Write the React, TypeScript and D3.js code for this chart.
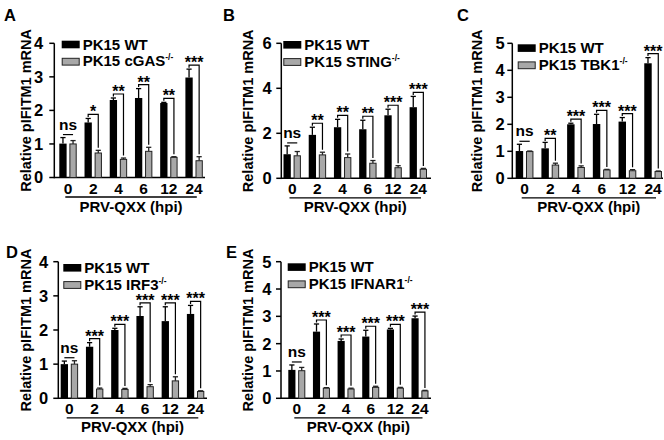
import React from "react";
import * as d3 from "d3";

const timepoints = ["0", "2", "4", "6", "12", "24"];
const panelLetters = ["A", "B", "C", "D", "E"];
const knockouts = ["cGAS", "STING", "TBK1", "IRF3", "IFNAR1"];
const yMaxes = [4, 6, 5, 4, 5];
const yTickSteps = [1, 2, 1, 1, 1];

const wtMeans = [
  [1.01, 1.64, 2.31, 2.37, 2.22, 2.98],
  [1.07, 1.93, 2.27, 2.18, 2.8, 3.16],
  [1.01, 1.11, 2.0, 2.01, 2.1, 4.26],
  [1.0, 1.51, 2.0, 2.41, 2.26, 2.47],
  [1.04, 2.44, 2.1, 2.26, 2.52, 2.93],
];
const wtErrs = [
  [0.18, 0.12, 0.06, 0.28, 0.02, 0.25],
  [0.37, 0.34, 0.35, 0.4, 0.27, 0.48],
  [0.25, 0.22, 0.04, 0.36, 0.15, 0.21],
  [0.09, 0.12, 0.05, 0.27, 0.42, 0.25],
  [0.18, 0.28, 0.07, 0.23, 0.04, 0.08],
];
const koMeans = [
  [1.0, 0.73, 0.54, 0.78, 0.6, 0.5],
  [1.0, 1.04, 0.92, 0.67, 0.47, 0.4],
  [0.99, 0.49, 0.4, 0.31, 0.28, 0.25],
  [1.0, 0.27, 0.26, 0.34, 0.51, 0.2],
  [1.01, 0.37, 0.34, 0.4, 0.37, 0.27],
];
const koErrs = [
  [0.1, 0.08, 0.04, 0.12, 0.02, 0.12],
  [0.19, 0.12, 0.16, 0.12, 0.09, 0.04],
  [0.02, 0.07, 0.06, 0.02, 0.04, 0.02],
  [0.1, 0.03, 0.03, 0.06, 0.12, 0.02],
  [0.12, 0.02, 0.03, 0.04, 0.03, 0.02],
];
const significance = [
  ["ns", "*", "**", "**", "**", "***"],
  ["ns", "**", "**", "**", "***", "***"],
  ["ns", "**", "***", "***", "***", "***"],
  ["ns", "***", "***", "***", "***", "***"],
  ["ns", "***", "***", "***", "***", "***"],
];
const xAxisTitle = "PRV-QXX (hpi)";
const yAxisTitle = "Relative pIFITM1 mRNA";
const wtLabel = "PK15 WT";

// layout per panel (pixels)
const layouts = [
  { axisX: 54.3, axisEnd: 205, y0: 177.5, yTop: 43.3, b0: 59.3, b1: 202.8, lx: 4, ly: 21, ylab: 30.5, gx: 61.7, gy: 40.7, tg: 11 },
  { axisX: 281.3, axisEnd: 431, y0: 178.3, yTop: 43.3, b0: 283.5, b1: 427, lx: 223, ly: 21, ylab: 253, gx: 283.3, gy: 41, tg: 9.5 },
  { axisX: 512.3, axisEnd: 663, y0: 178.3, yTop: 43.3, b0: 515.7, b1: 662, lx: 457, ly: 21, ylab: 482, gx: 517.7, gy: 44.3, tg: 7.5 },
  { axisX: 58.3, axisEnd: 207, y0: 398.3, yTop: 261.7, b0: 60.7, b1: 204.3, lx: 6, ly: 258, ylab: 31, gx: 63.3, gy: 264, tg: 10 },
  { axisX: 281, axisEnd: 431, y0: 398.3, yTop: 261.7, b0: 288.3, b1: 428.5, lx: 226, ly: 258, ylab: 253, gx: 287.7, gy: 263.3, tg: 9.5 },
];

const FONT = "Arial, 'Liberation Sans', Helvetica, sans-serif";
const GRAY = "#a8a8a8";

function Panel({ i }: { i: number }) {
  const L = layouts[i];
  const y = d3.scaleLinear().domain([0, yMaxes[i]]).range([L.y0, L.yTop]);
  const x = d3.scaleBand<string>().domain(timepoints).range([L.b0, L.b1]).paddingInner(0.31).paddingOuter(0);
  const bw = x.bandwidth() * 0.42;
  const ticks = d3.range(0, yMaxes[i] + 0.001, yTickSteps[i]);
  const wt = wtMeans[i], wtE = wtErrs[i], ko = koMeans[i], koE = koErrs[i];
  const first = x(timepoints[0])!;
  const last = x(timepoints[timepoints.length - 1])! + x.bandwidth();
  const yMid = (L.y0 + L.yTop) / 2;
  return (
    <g>
      <text x={L.lx} y={L.ly} fontSize={16.5} fontWeight="bold" fontFamily={FONT}>{panelLetters[i]}</text>
      <text transform={`translate(${L.ylab},${yMid}) rotate(-90)`} textAnchor="middle" fontSize={14.5} fontWeight="bold" fontFamily={FONT}>{yAxisTitle}</text>
      {/* y axis */}
      <line x1={L.axisX} x2={L.axisX} y1={L.y0 + 0.75} y2={L.yTop} stroke="#000" strokeWidth={1.5} />
      {ticks.map((t) => (
        <g key={t}>
          <line x1={L.axisX - 5} x2={L.axisX} y1={y(t)} y2={y(t)} stroke="#000" strokeWidth={1.5} />
          <text x={L.axisX - L.tg} y={y(t)} dy="0.36em" textAnchor="end" fontSize={16.5} fontWeight="bold" fontFamily={FONT}>{t}</text>
        </g>
      ))}
      {/* x axis */}
      <line x1={L.axisX} x2={L.axisEnd} y1={L.y0} y2={L.y0} stroke="#000" strokeWidth={1.5} />
      {timepoints.map((tp, j) => {
        const bx = x(tp)!;
        const kx = bx + x.bandwidth() - bw;
        const cB = bx + bw / 2;
        const cK = kx + bw / 2;
        const wTop = y(wt[j] + wtE[j]);
        const kTop = y(ko[j] + koE[j]);
        const sig = significance[i][j];
        const cap = 2.6;
        let bracket: React.ReactNode;
        if (sig === "ns") {
          const ly = Math.min(wTop, kTop) - 3;
          bracket = (
            <g>
              <line x1={cB} x2={cK} y1={ly} y2={ly} stroke="#000" strokeWidth={1.2} />
              <text x={(cB + cK) / 2} y={ly - 5} textAnchor="middle" fontSize={15.5} fontWeight="bold" fontFamily={FONT}>ns</text>
            </g>
          );
        } else {
          const ly = wTop - 4;
          bracket = (
            <g>
              <path d={`M${cB},${ly + 2.5}V${ly}H${cK}V${kTop - 2.5}`} fill="none" stroke="#000" strokeWidth={1.2} />
              <text x={(cB + cK) / 2} y={ly + 3} textAnchor="middle" fontSize={16} fontWeight="bold" fontFamily={FONT}>{sig}</text>
            </g>
          );
        }
        return (
          <g key={tp}>
            <line x1={cB} x2={cB} y1={y(wt[j])} y2={wTop} stroke="#000" strokeWidth={1.3} />
            <line x1={cB - cap} x2={cB + cap} y1={wTop} y2={wTop} stroke="#000" strokeWidth={1.3} />
            <rect x={bx} y={y(wt[j])} width={bw} height={L.y0 - y(wt[j])} fill="#000" />
            <line x1={cK} x2={cK} y1={y(ko[j])} y2={kTop} stroke="#222" strokeWidth={1.3} />
            <line x1={cK - cap} x2={cK + cap} y1={kTop} y2={kTop} stroke="#222" strokeWidth={1.3} />
            <rect x={kx + 0.5} y={y(ko[j])} width={bw - 1} height={L.y0 - y(ko[j])} fill={GRAY} stroke="#222" strokeWidth={1} />
            {bracket}
            <text x={bx + x.bandwidth() / 2} y={L.y0 + 10.5} dy="0.36em" textAnchor="middle" fontSize={15.5} fontWeight="bold" fontFamily={FONT}>{tp}</text>
          </g>
        );
      })}
      <line x1={first + 6} x2={last - 6} y1={L.y0 + 19.5} y2={L.y0 + 19.5} stroke="#000" strokeWidth={1.3} />
      <text x={(first + last) / 2} y={L.y0 + 34} textAnchor="middle" fontSize={15} fontWeight="bold" fontFamily={FONT}>{xAxisTitle}</text>
      {/* legend */}
      <rect x={L.gx} y={L.gy} width={18} height={7.6} fill="#000" />
      <text x={L.gx + 21} y={L.gy + 8.8} fontSize={15} fontWeight="bold" fontFamily={FONT}>{wtLabel}</text>
      <rect x={L.gx + 0.5} y={L.gy + 17.6} width={17} height={6.8} fill={GRAY} stroke="#222" strokeWidth={1} />
      <text x={L.gx + 21} y={L.gy + 25.6} fontSize={15} fontWeight="bold" fontFamily={FONT}>
        {`PK15 ${knockouts[i]}`}
        <tspan fontSize={8.5} dy={-6}>-/-</tspan>
      </text>
    </g>
  );
}

export default function App() {
  return (
    <svg width={664} height={440} style={{ display: "block", position: "absolute", left: 0, top: 0, background: "#fff" }}>
      <rect width={664} height={440} fill="#fff" />
      {panelLetters.map((_, i) => (
        <Panel key={i} i={i} />
      ))}
    </svg>
  );
}
